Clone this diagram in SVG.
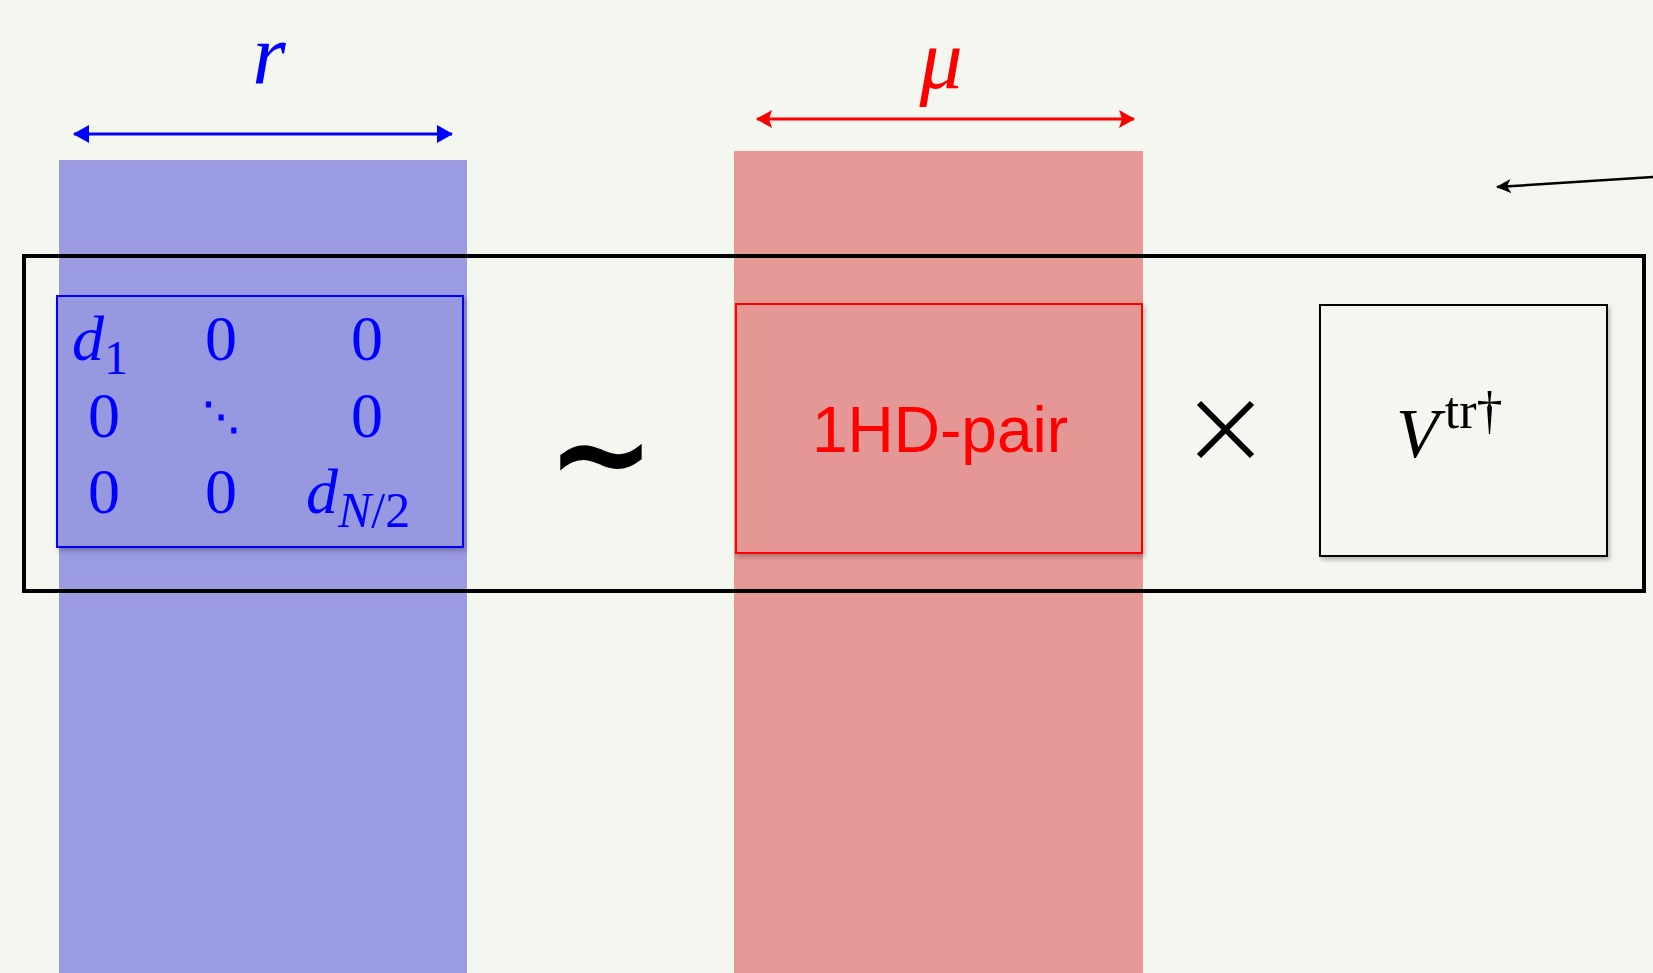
<svg xmlns="http://www.w3.org/2000/svg" width="1653" height="973" viewBox="0 0 1653 973">
<style>
.m{font-family:"Liberation Serif","DejaVu Serif",serif;}
.i{font-style:italic;}
.blue{fill:#0000ff;}
.red{fill:#ff0000;}
</style>
<defs>
<filter id="sh" x="-10%" y="-10%" width="130%" height="130%">
<feDropShadow dx="2" dy="3" stdDeviation="2" flood-color="#000" flood-opacity="0.25"/>
</filter>
<marker id="ab" markerWidth="16" markerHeight="18" refX="15" refY="9" orient="auto-start-reverse" markerUnits="userSpaceOnUse" viewBox="0 0 16 18">
<path d="M0,0 L16,9 L0,18 z" fill="#0000ff"/>
</marker>
<marker id="ar" markerWidth="16" markerHeight="18" refX="15" refY="9" orient="auto-start-reverse" markerUnits="userSpaceOnUse" viewBox="0 0 16 18">
<path d="M0,0 L16,9 L0,18 L3,9 z" fill="#ff0000"/>
</marker>
<marker id="ak" markerWidth="16" markerHeight="16" refX="14" refY="8" orient="auto" markerUnits="userSpaceOnUse" viewBox="0 0 16 16">
<path d="M0,1 L15,8 L0,15 L4,8 z" fill="#000"/>
</marker>
</defs>
<rect width="1653" height="973" fill="#f4f7ef"/>
<g id="blue-column">
<rect x="59" y="160" width="408" height="813" fill="#9a9be0"/>
</g>
<g id="red-column">
<rect x="734" y="151" width="409" height="822" fill="#e49995"/>
</g>
<g id="connectors">
<line x1="74" y1="134" x2="452" y2="134" stroke="#0000ff" stroke-width="3" marker-start="url(#ab)" marker-end="url(#ab)"/>
<line x1="757" y1="119" x2="1134" y2="119" stroke="#ff0000" stroke-width="3" marker-start="url(#ar)" marker-end="url(#ar)"/>
<line x1="1653" y1="177" x2="1497" y2="187" stroke="#000" stroke-width="2.5" marker-end="url(#ak)"/>
</g>
<g id="label-r">
<text x="269" y="84" class="m i blue" font-size="86" text-anchor="middle">r</text>
</g>
<g id="label-mu">
<text x="941" y="88" class="m i red" font-size="86" text-anchor="middle">μ</text>
</g>
<g id="frame">
<rect x="24" y="256" width="1620" height="335" fill="none" stroke="#000" stroke-width="4"/>
</g>
<g id="matrix">
<rect x="57" y="296" width="406" height="251" fill="#9698e0" stroke="#0000ff" stroke-width="2" filter="url(#sh)"/>
<g class="m blue" font-size="64" text-anchor="middle">
<text x="100" y="360" class="i">d<tspan font-size="48" font-style="normal" dy="14">1</tspan></text>
<text x="221" y="360">0</text>
<text x="367" y="360">0</text>
<text x="104" y="437">0</text>
<text x="221" y="430" font-size="38" font-weight="bold">⋱</text>
<text x="367" y="437">0</text>
<text x="104" y="513">0</text>
<text x="221" y="513">0</text>
<text x="306" y="513" class="i" text-anchor="start">d<tspan font-size="50" dy="14">N</tspan><tspan font-size="50" font-style="normal">/2</tspan></text>
</g>
</g>
<g id="tilde">
<text x="601" y="498" font-family="DejaVu Sans, sans-serif" font-size="130" text-anchor="middle" fill="#000" font-weight="bold">~</text>
</g>
<g id="hd-pair">
<rect x="736" y="304" width="406" height="249" fill="#e49794" stroke="#ff0000" stroke-width="2" filter="url(#sh)"/>
<text x="940" y="452" font-family="Liberation Sans, Arial, sans-serif" font-size="64" text-anchor="middle" fill="#ff0000">1HD-pair</text>
</g>
<g id="times">
<path d="M1199,403 L1252,456 M1252,403 L1199,456" stroke="#000" stroke-width="6"/>
</g>
<g id="v-box">
<rect x="1320" y="305" width="287" height="251" fill="#f4f7ef" stroke="#000" stroke-width="2" filter="url(#sh)"/>
<text x="1396" y="457" class="m" font-size="70" text-anchor="start" fill="#000"><tspan font-style="italic">V</tspan><tspan font-size="52" dy="-29" dx="6">tr†</tspan></text>
</g>
</svg>
